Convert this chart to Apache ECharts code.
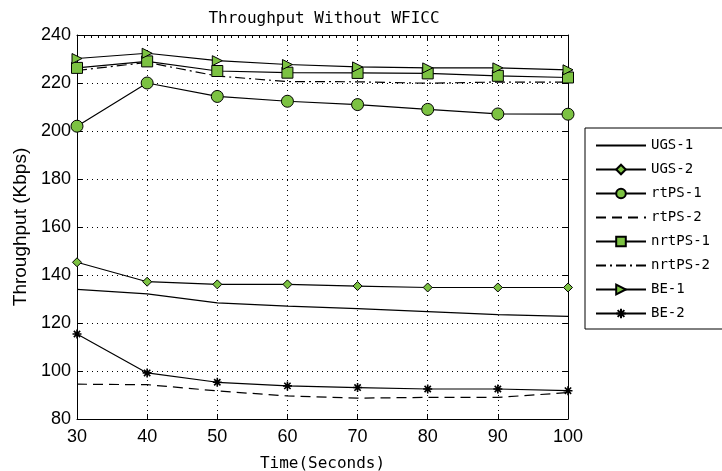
<!DOCTYPE html>
<html>
<head>
<meta charset="utf-8">
<script src="https://cdn.jsdelivr.net/npm/echarts@6/dist/echarts.min.js"></script>
<style>html,body{margin:0;padding:0;background:#fff}#c{width:722px;height:471px}</style>
</head>
<body>
<div id="c"></div>
<script>
var times = [30, 40, 50, 60, 70, 80, 90, 100];
var ugs1   = [134.0, 132.1, 128.4, 127.0, 126.0, 124.7, 123.5, 122.8];
var ugs2   = [145.3, 137.2, 136.1, 136.1, 135.4, 134.8, 134.8, 134.8];
var rtps1  = [202.0, 220.0, 214.4, 212.4, 211.0, 209.0, 207.1, 207.0];
var rtps2  = [94.5, 94.3, 91.7, 89.6, 88.7, 89.0, 89.0, 91.0];
var nrtps1 = [226.3, 229.0, 225.0, 224.3, 224.2, 224.0, 223.0, 222.3];
var nrtps2 = [225.2, 228.6, 222.9, 220.6, 220.5, 219.9, 220.4, 220.4];
var be1    = [230.2, 232.4, 229.3, 227.7, 226.7, 226.3, 226.3, 225.5];
var be2    = [115.4, 99.2, 95.3, 93.8, 93.1, 92.5, 92.5, 91.8];
var xTicks = [30, 40, 50, 60, 70, 80, 90, 100];
var yTicks = [80, 100, 120, 140, 160, 180, 200, 220, 240];
var seriesNames = ['UGS-1', 'UGS-2', 'rtPS-1', 'rtPS-2', 'nrtPS-1', 'nrtPS-2', 'BE-1', 'BE-2'];

function pairs(ys) { return times.map(function (t, i) { return [t, ys[i]]; }); }

var GREEN = '#7cc242';
var MONO = '"DejaVu Sans Mono", "Liberation Mono", monospace';
var SANS = '"Liberation Sans", Arial, sans-serif';
var triPath = 'path://M0,0 L10,5 L0,10 Z';
var starPath = 'path://M5,0 L5,10 M0,5 L10,5 M1.5,1.5 L8.5,8.5 M8.5,1.5 L1.5,8.5';
var blankPath = 'path://M0,0 L10,0 L10,10 L0,10 Z';
var CLEAR = 'rgba(255,255,255,0)';

function mk(name, ys, opts) {
  var hasSym = !!opts.symbol;
  return {
    name: name,
    type: 'line',
    data: pairs(ys),
    symbol: hasSym ? opts.symbol : blankPath,
    symbolSize: opts.size || 10,
    showSymbol: hasSym,
    lineStyle: { color: '#000', width: 1.2, type: opts.dash || 'solid' },
    itemStyle: hasSym
      ? { color: opts.fill || GREEN, borderColor: '#000', borderWidth: opts.bw || 1 }
      : { color: CLEAR, borderColor: CLEAR, borderWidth: 0 },
    emphasis: { disabled: true },
    z: 3
  };
}

var chart = echarts.init(document.getElementById('c'), null, { renderer: 'canvas' });
chart.setOption({
  animation: false,
  backgroundColor: '#fff',
  title: {
    text: 'Throughput Without WFICC',
    left: 319, textAlign: 'center', top: 6,
    textStyle: { fontFamily: MONO, fontSize: 16, fontWeight: 'normal', color: '#000' }
  },
  grid: { left: 77, right: 154, top: 35, bottom: 52, containLabel: false, outerBoundsMode: 'none' },
  legend: {
    orient: 'vertical',
    left: 585, top: 128,
    padding: [10, 40, 8, 10],
    itemWidth: 50, itemHeight: 12, itemGap: 9,
    backgroundColor: '#fff',
    borderColor: '#000', borderWidth: 1, borderRadius: 0,
    textStyle: { fontFamily: MONO, fontSize: 14, color: '#000', lineHeight: 15 },
    data: seriesNames
  },
  xAxis: [{
    type: 'value', min: 30, max: 100, interval: 10,
    name: 'Time(Seconds)', nameLocation: 'middle', nameGap: 37,
    nameTextStyle: { fontFamily: MONO, fontSize: 16, color: '#000' },
    axisLine: { show: true, lineStyle: { color: '#000', width: 1 } },
    axisTick: { inside: true, length: 5, lineStyle: { color: '#000' } },
    axisLabel: { fontFamily: SANS, fontSize: 18, color: '#000', margin: 9,
      formatter: function (v) { return xTicks.indexOf(v) >= 0 ? String(v) : ''; } },
    splitLine: { show: true, lineStyle: { color: '#000', type: [1, 4], width: 1 } }
  }, {
    type: 'value', min: 30, max: 100, interval: 10, position: 'top',
    axisLine: { show: true, onZero: false, lineStyle: { color: '#000', width: 1 } },
    axisTick: { inside: true, length: 5, lineStyle: { color: '#000' } },
    minorTick: { show: true, splitNumber: 10, length: 3, lineStyle: { color: '#000' } },
    axisLabel: { show: false },
    splitLine: { show: false }
  }],
  yAxis: [{
    type: 'value', min: 80, max: 240, interval: 20,
    name: 'Throughput (Kbps)', nameLocation: 'middle', nameGap: 45,
    nameTextStyle: { fontFamily: SANS, fontSize: 19, color: '#000' },
    axisLine: { show: true, lineStyle: { color: '#000', width: 1 } },
    axisTick: { show: true, inside: true, length: 5, lineStyle: { color: '#000' } },
    axisLabel: { fontFamily: SANS, fontSize: 18, color: '#000', margin: 6,
      formatter: function (v) { return yTicks.indexOf(v) >= 0 ? String(v) : ''; } },
    splitLine: { show: true, lineStyle: { color: '#000', type: [1, 4], width: 1 } }
  }, {
    type: 'value', min: 80, max: 240, interval: 20, position: 'right',
    axisLine: { show: true, onZero: false, lineStyle: { color: '#000', width: 1 } },
    axisTick: { show: true, inside: true, length: 5, lineStyle: { color: '#000' } },
    axisLabel: { show: false },
    splitLine: { show: false }
  }],
  series: [
    mk(seriesNames[0], ugs1, {}),
    mk(seriesNames[1], ugs2, { symbol: 'diamond', size: 9 }),
    mk(seriesNames[2], rtps1, { symbol: 'circle', size: 12 }),
    mk(seriesNames[3], rtps2, { dash: [10, 6] }),
    mk(seriesNames[4], nrtps1, { symbol: 'rect', size: 11 }),
    mk(seriesNames[5], nrtps2, { dash: [10, 4, 2, 4] }),
    mk(seriesNames[6], be1, { symbol: triPath, size: 10 }),
    mk(seriesNames[7], be2, { symbol: starPath, size: 9, fill: '#000', bw: 1.6 })
  ]
});
</script>
</body>
</html>
